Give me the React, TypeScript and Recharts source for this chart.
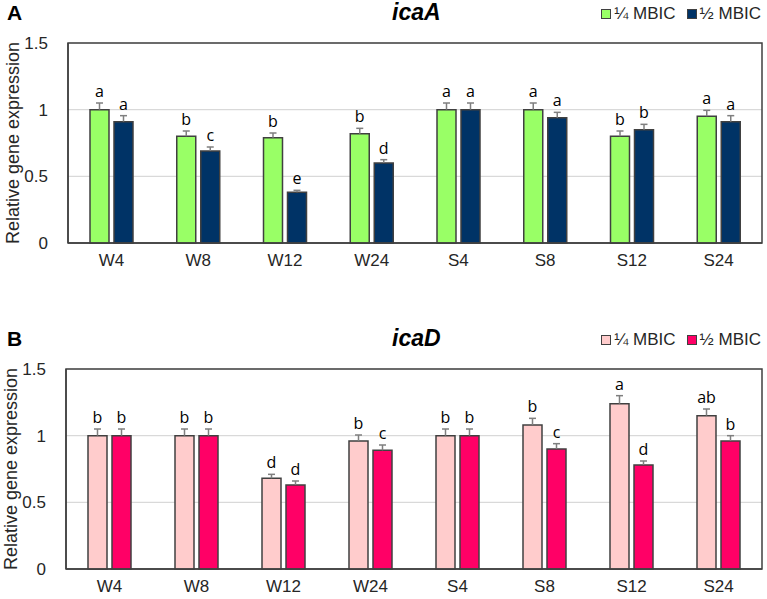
// Relative icaA / icaD expression under 1/4 and 1/2 MBIC, two stacked panels.

import { Bar, BarChart, CartesianGrid, LabelList, ReferenceArea, XAxis, YAxis } from "recharts";

const CATEGORIES = ["W4", "W8", "W12", "W24", "S4", "S8", "S12", "S24"];
const Y_TICKS = [0, 0.5, 1, 1.5];

// icaA
const ICAA_QUARTER = [1.0, 0.8, 0.79, 0.82, 1.0, 1.0, 0.8, 0.95];
const ICAA_QUARTER_ERR = [0.05, 0.04, 0.035, 0.04, 0.05, 0.05, 0.04, 0.045];
const ICAA_QUARTER_LETTERS = ["a", "b", "b", "b", "a", "a", "b", "a"];
const ICAA_HALF = [0.91, 0.69, 0.38, 0.6, 1.0, 0.94, 0.85, 0.91];
const ICAA_HALF_ERR = [0.045, 0.03, 0.015, 0.025, 0.05, 0.04, 0.04, 0.045];
const ICAA_HALF_LETTERS = ["a", "c", "e", "d", "a", "a", "b", "a"];

// icaD
const ICAD_QUARTER = [1.0, 1.0, 0.68, 0.96, 1.0, 1.08, 1.24, 1.15];
const ICAD_QUARTER_ERR = [0.05, 0.05, 0.03, 0.045, 0.05, 0.05, 0.06, 0.05];
const ICAD_QUARTER_LETTERS = ["b", "b", "d", "b", "b", "b", "a", "ab"];
const ICAD_HALF = [1.0, 1.0, 0.63, 0.89, 1.0, 0.9, 0.78, 0.96];
const ICAD_HALF_ERR = [0.05, 0.05, 0.03, 0.04, 0.05, 0.04, 0.03, 0.04];
const ICAD_HALF_LETTERS = ["b", "b", "d", "c", "b", "c", "d", "b"];

const SERIES_NAMES = ["¼ MBIC", "½ MBIC"];

const TEXT = "#262626";
const EDGE = "#404040";
const FONT = "'Liberation Sans', Arial, sans-serif";
const LETTER_FONT = "'Open Sans', sans-serif";

function buildRows(q: number[], qe: number[], ql: string[], h: number[], he: number[], hl: string[]) {
  return CATEGORIES.map((cat, i) => ({
    cat,
    q: q[i],
    qErr: qe[i],
    qLab: ql[i],
    h: h[i],
    hErr: he[i],
    hLab: hl[i],
  }));
}

// draws the upper half of an error bar inside a transparent stacked segment
function ErrShape(p: any) {
  const { x, y, width, height } = p;
  if (height == null || width == null) return null;
  const cx = x + width / 2;
  return (
    <g>
      <line x1={cx} y1={y} x2={cx} y2={y + height} stroke="#7f7f7f" strokeWidth={1.5} />
      <line x1={cx - 3.5} y1={y} x2={cx + 3.5} y2={y} stroke="#7f7f7f" strokeWidth={1.5} />
    </g>
  );
}

function LegendBox({ colors, top, right }: { colors: string[]; top: number; right: number }) {
  return (
    <div
      style={{
        position: "absolute",
        top,
        right,
        display: "flex",
        gap: 11,
        fontFamily: FONT,
        fontSize: 17,
        color: TEXT,
        lineHeight: "20px",
      }}
    >
      {SERIES_NAMES.map((n, i) => (
        <span key={n} style={{ display: "flex", alignItems: "center", gap: 3 }}>
          <span
            style={{
              width: 8,
              height: 8,
              background: colors[i],
              border: `1.3px solid ${EDGE}`,
              display: "inline-block",
            }}
          />
          {n}
        </span>
      ))}
    </div>
  );
}

function Panel({
  letter,
  gene,
  rows,
  colors,
  top,
  height,
  marginTop,
  marginLeft,
}: {
  letter: string;
  gene: string;
  rows: ReturnType<typeof buildRows>;
  colors: string[];
  top: number;
  height: number;
  marginTop: number;
  marginLeft: number;
}) {
  return (
    <div style={{ position: "absolute", left: 0, top, width: 767, height }}>
      <BarChart
        width={767}
        height={height}
        data={rows}
        margin={{ top: marginTop, right: 5, left: marginLeft - 68, bottom: height - marginTop - 200 - 30 }}
        barSize={19}
        barGap={5}
        style={{ position: "absolute", left: 0, top: 0 }}
      >
        <CartesianGrid horizontal vertical={false} stroke="#d9d9d9" strokeWidth={1.2} />
        <XAxis
          dataKey="cat"
          height={30}
          tick={{ fontSize: 17, fill: TEXT, fontFamily: FONT }}
          tickLine={false}
          axisLine={{ stroke: EDGE, strokeWidth: 1.5 }}
          tickMargin={5}
        />
        <YAxis
          domain={[0, 1.5]}
          ticks={Y_TICKS}
          width={68}
          tick={{ fontSize: 17, fill: TEXT, fontFamily: FONT }}
          tickLine={false}
          axisLine={{ stroke: EDGE, strokeWidth: 1.5 }}
          tickMargin={14}
          label={{
            value: "Relative gene expression",
            angle: -90,
            position: "center",
            dx: -21,
            style: { fontSize: 18, fill: TEXT, fontFamily: FONT },
          }}
        />
        <ReferenceArea y1={0} y2={1.5} fill="none" stroke={EDGE} strokeWidth={1.5} fillOpacity={0} />
        <Bar dataKey="q" stackId="q" name={SERIES_NAMES[0]} fill={colors[0]} stroke={EDGE} strokeWidth={1.5} isAnimationActive={false} />
        <Bar dataKey="qErr" stackId="q" legendType="none" fill="none" shape={ErrShape} isAnimationActive={false}>
          <LabelList dataKey="qLab" position="top" offset={6} style={{ fontSize: 16, fill: "#000", fontFamily: LETTER_FONT }} />
        </Bar>
        <Bar dataKey="h" stackId="h" name={SERIES_NAMES[1]} fill={colors[1]} stroke={EDGE} strokeWidth={1.5} isAnimationActive={false} />
        <Bar dataKey="hErr" stackId="h" legendType="none" fill="none" shape={ErrShape} isAnimationActive={false}>
          <LabelList dataKey="hLab" position="top" offset={6} style={{ fontSize: 16, fill: "#000", fontFamily: LETTER_FONT }} />
        </Bar>
      </BarChart>
      <div
        style={{
          position: "absolute",
          left: 7,
          top: marginTop - 42,
          fontFamily: FONT,
          fontWeight: 700,
          fontSize: 21,
          lineHeight: "24px",
          color: "#000",
        }}
      >
        {letter}
      </div>
      <div
        style={{
          position: "absolute",
          left: 392,
          top: marginTop - 44,
          fontFamily: FONT,
          fontWeight: 700,
          fontStyle: "italic",
          fontSize: 23,
          lineHeight: "26px",
          color: "#000",
        }}
      >
        {gene}
      </div>
      <LegendBox colors={colors} top={marginTop - 39} right={6} />
    </div>
  );
}

export default function App() {
  const rowsA = buildRows(ICAA_QUARTER, ICAA_QUARTER_ERR, ICAA_QUARTER_LETTERS, ICAA_HALF, ICAA_HALF_ERR, ICAA_HALF_LETTERS);
  const rowsB = buildRows(ICAD_QUARTER, ICAD_QUARTER_ERR, ICAD_QUARTER_LETTERS, ICAD_HALF, ICAD_HALF_ERR, ICAD_HALF_LETTERS);
  return (
    <div style={{ position: "absolute", left: 0, top: 0, width: 767, height: 599, background: "#fff", overflow: "hidden" }}>
      <Panel letter="A" gene="icaA" rows={rowsA} colors={["#99ff66", "#003366"]} top={0} height={290} marginTop={43} marginLeft={68} />
      <Panel letter="B" gene="icaD" rows={rowsB} colors={["#ffcccc", "#ff0066"]} top={300} height={299} marginTop={69} marginLeft={66} />
    </div>
  );
}
